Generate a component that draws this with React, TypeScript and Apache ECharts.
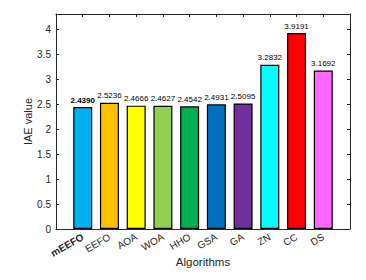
import React, { useEffect, useRef } from "react";
import * as echarts from "echarts";

const categories = ["mEEFO", "EEFO", "AOA", "WOA", "HHO", "GSA", "GA", "ZN", "CC", "DS"];
const values = [2.439, 2.5236, 2.4666, 2.4627, 2.4542, 2.4931, 2.5095, 3.2832, 3.9191, 3.1692];
const valueLabels = ["2.4390", "2.5236", "2.4666", "2.4627", "2.4542", "2.4931", "2.5095", "3.2832", "3.9191", "3.1692"];
const colors = ["#00B0F0", "#FFC000", "#FFFF00", "#92D050", "#00B050", "#0070C0", "#7030A0", "#00FFFF", "#FF0000", "#FF66FF"];

const FONT = "Liberation Sans, Arial, sans-serif";
const NARROW = "Liberation Sans Narrow, Arial Narrow, Liberation Sans, sans-serif";

export default function App() {
  const ref = useRef<HTMLDivElement>(null);
  useEffect(() => {
    if (!ref.current) return;
    const chart = echarts.init(ref.current, undefined, { renderer: "svg" });
    const tickFmt = (v: number) =>
      Math.abs(v * 2 - Math.round(v * 2)) < 1e-6 && v <= 4.0001 ? String(Math.round(v * 10) / 10) : "";
    const lineCfg = { show: true, onZero: false, lineStyle: { color: "#262626", width: 1 } };
    const tickCfg = { show: true, inside: true, length: 3, lineStyle: { color: "#262626" } };
    chart.setOption({
      animation: false,
      grid: { left: 48, right: 16, top: 6, bottom: 51 },
      xAxis: [
        {
          type: "value",
          min: 0,
          max: 11,
          interval: 1,
          name: "Algorithms",
          nameLocation: "middle",
          nameGap: 27,
          nameMoveOverlap: false,
          nameTextStyle: { fontFamily: FONT, fontSize: 11.5, color: "#262626", verticalAlign: "top" },
          axisLine: lineCfg,
          axisTick: tickCfg,
          splitLine: { show: false },
          axisLabel: {
            rotate: 30,
            fontFamily: FONT,
            fontSize: 10,
            color: "#262626",
            margin: 7,
            formatter: (v: number) => {
              const i = Math.round(v) - 1;
              if (i < 0 || i >= categories.length) return "";
              return i === 0 ? "{b|" + categories[i] + "}" : categories[i];
            },
            rich: { b: { fontWeight: "bold", fontFamily: FONT, fontSize: 10, color: "#262626" } },
          },
        },
        {
          type: "value",
          position: "top",
          min: 0,
          max: 11,
          interval: 1,
          axisLine: lineCfg,
          axisTick: tickCfg,
          axisLabel: { show: false },
          splitLine: { show: false },
        },
      ],
      yAxis: [
        {
          type: "value",
          min: 0,
          max: 4.3,
          interval: 0.5,
          name: "IAE value",
          nameLocation: "middle",
          nameGap: 23,
          nameMoveOverlap: false,
          nameTextStyle: { fontFamily: FONT, fontSize: 11, color: "#262626" },
          axisLine: lineCfg,
          axisTick: tickCfg,
          splitLine: { show: false },
          axisLabel: { fontFamily: FONT, fontSize: 10, color: "#262626", margin: 5, formatter: tickFmt },
        },
        {
          type: "value",
          position: "right",
          min: 0,
          max: 4.3,
          interval: 0.5,
          axisLine: lineCfg,
          axisTick: tickCfg,
          axisLabel: { show: false },
          splitLine: { show: false },
        },
      ],
      series: [
        {
          type: "bar",
          barWidth: 19,
          data: values.map((v, i) => ({
            value: [i + 1, v],
            itemStyle: { color: colors[i], borderColor: "#000", borderWidth: 1.2 },
            label: {
              show: true,
              position: "top",
              distance: 3,
              formatter: valueLabels[i],
              fontFamily: NARROW,
              fontSize: 8,
              fontWeight: i === 0 ? "bold" : "normal",
              color: "#000",
            },
          })),
        },
      ],
    });
    return () => chart.dispose();
  }, []);
  return <div ref={ref} style={{ width: 358, height: 272 }} />;
}
